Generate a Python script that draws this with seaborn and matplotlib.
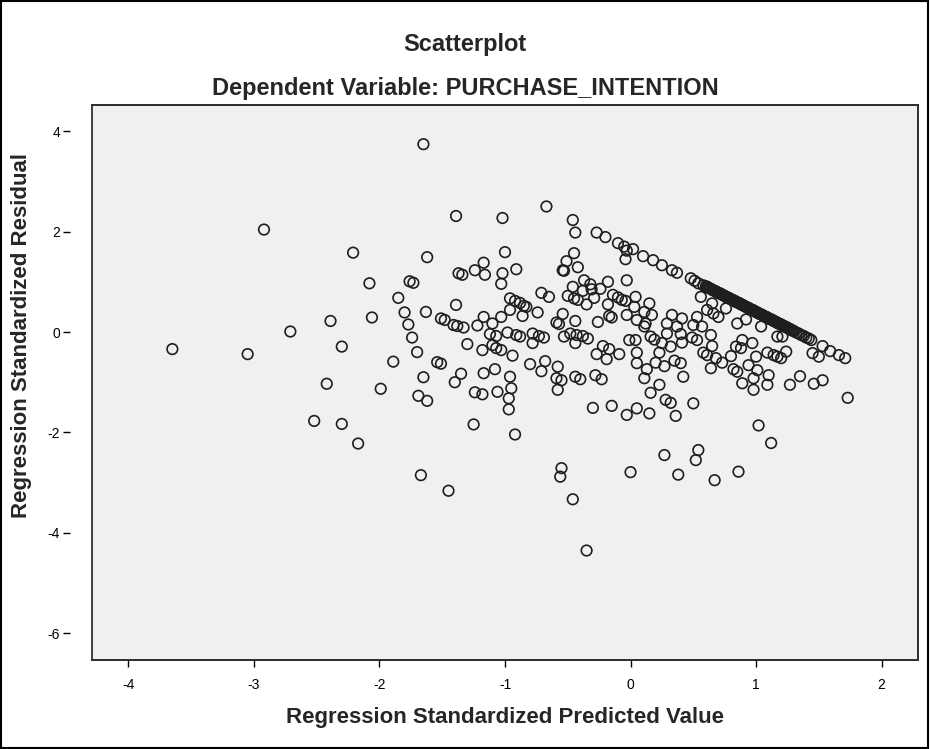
import matplotlib
matplotlib.use("Agg")
import matplotlib.pyplot as plt
import seaborn as sns
import pandas as pd
from matplotlib.patches import Rectangle

# residuals spread below the ceiling line
pred_spread = [
    -3.65, -3.05, -2.92, -2.71, -2.39, -2.42, -2.52, -1.39, -2.21, -1.62,
    -2.08, -1.76, -1.73, -1.37, -1.34, -1.24, -1.85, -1.39, -1.80, -1.63,
    -2.06, -1.77, -1.51, -1.48, -1.41, -1.38, -1.33, -1.22, -1.74, -2.30,
    -1.70, -1.89, -1.54, -1.51, -1.30, -1.35, -1.40, -1.65, -1.99, -1.69,
    -1.62, -1.24, -2.30, -2.17, -1.25, -1.67, -1.45, -0.46, -0.35, 0.00,
    0.38, 0.67, 0.86, -1.65, -0.67, -1.02, -0.46, -0.44, -0.04, -1.00,
    -0.45, -0.51, -0.42, -0.54, -0.53, -0.91, -1.17, -1.16, -1.02, -1.03,
    -0.03, -0.37, -0.32, -0.24, -0.18, -0.46, -0.38, -0.31, -0.50, -0.45,
    -0.42, -0.35, -0.29, -0.71, -0.65, -0.96, -0.92, -0.88, -0.85, -0.83,
    -0.14, -0.10, -0.07, -0.04, -0.18, -0.74, -0.86, -0.96, -1.03, -1.17,
    -1.10, -0.54, -0.59, -0.57, -0.44, -0.26, -0.17, -0.15, -0.03, -1.12,
    -1.07, -0.98, -0.91, -0.88, -0.78, -0.73, -0.69, -0.53, -0.48, -0.43,
    -0.38, -0.34, -0.01, -1.18, -1.10, -1.07, -1.03, -0.94, -0.78, -0.44,
    -0.22, -0.17, -0.27, -0.19, -0.09, -1.17, -1.08, -0.96, -0.80, -0.68,
    -0.71, -0.58, -0.59, -0.55, -0.58, -0.44, -0.40, -0.28, -0.23, -1.18,
    -1.06, -0.95, -0.97, -0.97, -0.30, -0.15, -0.03, -0.92, -0.55, -0.56,
    0.04, 0.03, 0.15, 0.11, 0.17, 0.05, 0.12, 0.11, 0.56, 0.65,
    0.61, 0.66, 0.70, 0.76, 0.53, 0.50, 0.57, 0.33, 0.41, 0.29,
    0.37, 0.85, 0.92, 1.04, 0.04, 0.16, 0.19, 0.25, 0.29, 0.40,
    0.41, 0.49, 0.53, 0.64, 0.65, 0.05, 0.23, 0.32, 0.58, 0.61,
    0.80, 0.84, 0.89, 0.88, 0.97, 1.09, 1.14, 1.17, 1.17, 0.05,
    0.13, 0.20, 0.27, 0.35, 0.40, 0.11, 0.42, 0.64, 0.68, 0.73,
    0.82, 0.85, 0.94, 1.01, 1.00, 1.10, 0.89, 0.98, 0.98, 1.09,
    0.23, 0.16, 0.28, 0.32, 0.50, 0.05, 0.15, 0.36, 1.02, 1.12,
    0.27, 0.54, 0.52, 1.45, 1.50, 1.24, 1.20, 1.21, 1.27, 1.35,
    1.46, 1.53, 1.73,
]
resid_spread = [
    -0.34, -0.44, 2.04, 0.01, 0.22, -1.03, -1.77, 2.31, 1.58, 1.49,
    0.97, 1.01, 0.98, 1.17, 1.14, 1.23, 0.68, 0.54, 0.39, 0.40,
    0.29, 0.15, 0.27, 0.24, 0.14, 0.12, 0.09, 0.13, -0.11, -0.29,
    -0.40, -0.59, -0.60, -0.63, -0.24, -0.83, -1.00, -0.90, -1.13, -1.27,
    -1.37, -1.20, -1.83, -2.22, -1.84, -2.85, -3.16, -3.33, -4.35, -2.79,
    -2.84, -2.95, -2.78, 3.74, 2.50, 2.27, 2.23, 1.98, 1.45, 1.59,
    1.57, 1.41, 1.29, 1.23, 1.22, 1.25, 1.38, 1.14, 1.17, 0.96,
    1.03, 1.03, 0.95, 0.86, 1.00, 0.90, 0.82, 0.85, 0.72, 0.67,
    0.64, 0.55, 0.68, 0.78, 0.70, 0.67, 0.62, 0.58, 0.52, 0.50,
    0.74, 0.69, 0.64, 0.62, 0.55, 0.39, 0.32, 0.44, 0.30, 0.30,
    0.17, 0.36, 0.19, 0.16, 0.22, 0.20, 0.32, 0.29, 0.34, -0.04,
    -0.08, -0.01, -0.06, -0.09, -0.03, -0.08, -0.11, -0.09, -0.03, -0.06,
    -0.08, -0.13, -0.16, -0.36, -0.26, -0.32, -0.36, -0.47, -0.22, -0.22,
    -0.28, -0.34, -0.44, -0.54, -0.44, -0.82, -0.74, -0.89, -0.64, -0.58,
    -0.78, -0.69, -0.92, -0.96, -1.15, -0.89, -0.94, -0.86, -0.94, -1.24,
    -1.19, -1.12, -1.32, -1.54, -1.51, -1.47, -1.65, -2.04, -2.71, -2.88,
    0.70, 0.50, 0.57, 0.40, 0.34, 0.24, 0.17, 0.11, 0.70, 0.57,
    0.44, 0.37, 0.30, 0.47, 0.30, 0.14, 0.11, 0.34, 0.27, 0.17,
    0.11, 0.17, 0.25, 0.11, -0.16, -0.09, -0.15, -0.22, -0.03, -0.04,
    -0.21, -0.11, -0.16, -0.06, -0.28, -0.41, -0.41, -0.29, -0.41, -0.46,
    -0.48, -0.29, -0.16, -0.32, -0.22, -0.41, -0.46, -0.49, -0.09, -0.62,
    -0.74, -0.61, -0.68, -0.57, -0.62, -0.92, -0.89, -0.72, -0.52, -0.61,
    -0.74, -0.79, -0.66, -0.76, -0.49, -0.86, -1.02, -1.15, -0.92, -1.05,
    -1.05, -1.21, -1.35, -1.41, -1.42, -1.52, -1.62, -1.67, -1.86, -2.21,
    -2.45, -2.35, -2.55, -0.42, -0.49, -0.39, -0.52, -0.09, -1.05, -0.88,
    -1.03, -0.96, -1.31,
]

# cases sitting on the upper diagonal (top score of the dependent variable)
pred_ceiling = [
    -0.27, -0.20, -0.10, -0.05, -0.03, 0.02, 0.10, 0.18, 0.25, 0.33,
    0.37, 0.48, 0.51, 0.54, 0.58, 0.60, 0.61, 0.62, 0.63, 0.64,
    0.65, 0.66, 0.67, 0.68, 0.69, 0.70, 0.71, 0.72, 0.73, 0.74,
    0.75, 0.76, 0.77, 0.78, 0.79, 0.80, 0.81, 0.82, 0.83, 0.84,
    0.85, 0.86, 0.87, 0.88, 0.89, 0.90, 0.91, 0.92, 0.93, 0.94,
    0.95, 0.96, 0.97, 0.98, 0.99, 1.00, 1.01, 1.02, 1.03, 1.04,
    1.05, 1.06, 1.07, 1.08, 1.09, 1.10, 1.11, 1.12, 1.13, 1.14,
    1.15, 1.16, 1.17, 1.18, 1.19, 1.20, 1.21, 1.22, 1.23, 1.24,
    1.25, 1.26, 1.27, 1.28, 1.29, 1.30, 1.32, 1.34, 1.36, 1.38,
    1.40, 1.42, 1.44, 1.53, 1.59, 1.66, 1.71,
]
resid_ceiling = [
    1.98, 1.89, 1.77, 1.70, 1.62, 1.65, 1.51, 1.43, 1.33, 1.23,
    1.18, 1.07, 1.02, 0.97, 0.93, 0.91, 0.90, 0.88, 0.87, 0.86,
    0.84, 0.83, 0.82, 0.81, 0.79, 0.78, 0.77, 0.76, 0.74, 0.73,
    0.72, 0.70, 0.69, 0.68, 0.67, 0.65, 0.64, 0.63, 0.62, 0.60,
    0.59, 0.58, 0.57, 0.55, 0.54, 0.53, 0.51, 0.50, 0.49, 0.48,
    0.46, 0.45, 0.44, 0.43, 0.41, 0.40, 0.39, 0.37, 0.36, 0.35,
    0.34, 0.32, 0.31, 0.30, 0.29, 0.27, 0.26, 0.25, 0.24, 0.22,
    0.21, 0.20, 0.18, 0.17, 0.16, 0.15, 0.13, 0.12, 0.11, 0.10,
    0.08, 0.07, 0.06, 0.04, 0.03, 0.02, -0.01, -0.03, -0.06, -0.08,
    -0.11, -0.13, -0.16, -0.28, -0.38, -0.46, -0.52,
]

x_ticks = [-4, -3, -2, -1, 0, 1, 2]
y_ticks = [-6, -4, -2, 0, 2, 4]

df = pd.DataFrame({
    "pred": pred_spread + pred_ceiling,
    "resid": resid_spread + resid_ceiling,
})

sns.set_style("white")
plt.rcParams["font.family"] = ["Liberation Sans", "DejaVu Sans"]
plt.rcParams["axes.unicode_minus"] = False

fig = plt.figure(figsize=(9.3, 7.49), dpi=100)
ax = fig.add_axes([92 / 930, 1 - 660 / 749, 826 / 930, 555 / 749])
ax.set_facecolor("#f0f0f0")

sns.scatterplot(data=df, x="pred", y="resid", ax=ax, marker="o", s=58,
                facecolor="none", edgecolor="#1e1e1e", linewidth=1.2)

ax.set_xlim(-4.29, 2.29)
ax.set_ylim(-6.53, 4.52)
ax.set_xticks(x_ticks)
ax.set_yticks(y_ticks)
ax.set_xlabel("")
ax.set_ylabel("")

# SPSS frame around the data area, y axis ticks sit away from it
for side in ["top", "right", "bottom", "left"]:
    ax.spines[side].set_visible(True)
    ax.spines[side].set_color("#303030")
    ax.spines[side].set_linewidth(1.3)
ax.spines["left"].set_position(("outward", 16))
ax.spines["left"].set_color("none")
ax.add_patch(Rectangle((0, 0), 1, 1, transform=ax.transAxes, fill=False,
                       edgecolor="#303030", lw=1.3, clip_on=False, zorder=5))

ax.tick_params(axis="both", which="both", direction="out", length=5, width=1,
               color="black", labelsize=10, labelcolor="black",
               left=True, bottom=True)
ax.tick_params(axis="x", pad=8)
ax.tick_params(axis="y", pad=2)

fig.text(0.5, 1 - 45 / 749, "Scatterplot", ha="center", va="center",
         fontsize=17, fontweight="bold")
fig.text(0.5, 1 - 89 / 749, "Dependent Variable: PURCHASE_INTENTION",
         ha="center", va="center", fontsize=17, fontweight="bold")
fig.text(505 / 930, 1 - 718 / 749, "Regression Standardized Predicted Value",
         ha="center", va="center", fontsize=16, fontweight="bold")
fig.text(22 / 930, 1 - 335 / 749, "Regression Standardized Residual",
         ha="center", va="center", rotation=90, fontsize=16, fontweight="bold")

fig.add_artist(Rectangle((0.001, 0.001), 0.997, 0.997, transform=fig.transFigure,
                         fill=False, edgecolor="black", lw=1.5))

fig.savefig("out.png", dpi=100)
